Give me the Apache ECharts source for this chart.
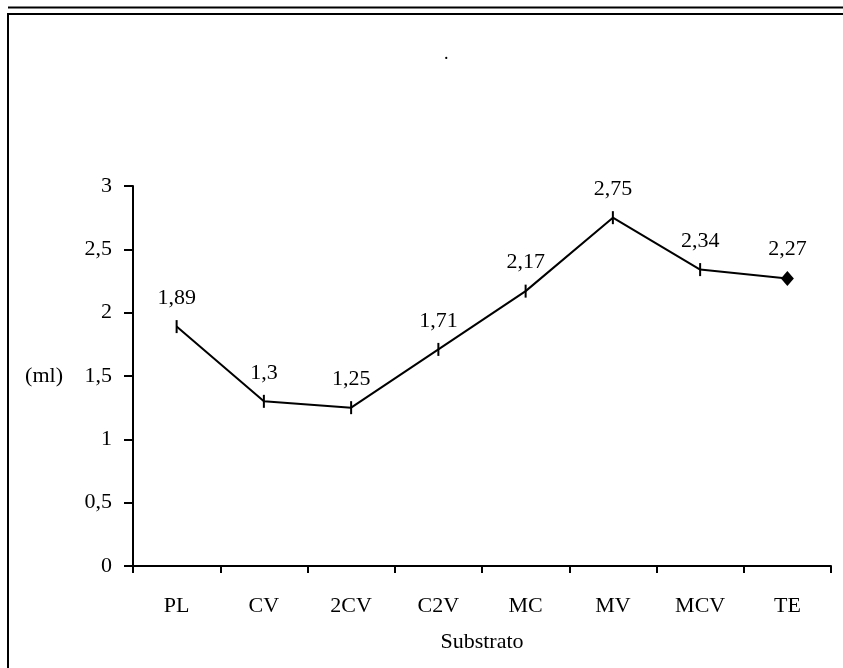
<!DOCTYPE html>
<html>
<head>
<meta charset="utf-8">
<script src="https://cdn.jsdelivr.net/npm/echarts@6/dist/echarts.min.js"></script>
<style>
  html, body { margin: 0; padding: 0; background: #fff; }
  #chart { width: 843px; height: 668px; }
</style>
</head>
<body>
<div id="chart"></div>
<script>
// Volume per substrate
const categories = ['PL', 'CV', '2CV', 'C2V', 'MC', 'MV', 'MCV', 'TE'];
const volumes = [1.89, 1.3, 1.25, 1.71, 2.17, 2.75, 2.34, 2.27];
const yTicks = [0, 0.5, 1, 1.5, 2, 2.5, 3];

const FONT = '"Liberation Serif", "Times New Roman", serif';
const FS = 22;
const fmt = v => String(v).replace('.', ',');

// every point uses a short vertical dash, the last one a diamond
const seriesData = volumes.map((v, i) => {
  const last = i === volumes.length - 1;
  return {
    value: v,
    symbol: last ? 'diamond' : 'rect',
    symbolSize: last ? [13, 15] : [2, 13]
  };
});

const chart = echarts.init(document.getElementById('chart'), null, { renderer: 'canvas' });
chart.setOption({
  backgroundColor: '#fff',
  animation: false,
  title: {
    text: '.',
    left: 439,
    top: 40,
    textStyle: { fontFamily: FONT, fontSize: 18, fontWeight: 'normal', color: '#000' }
  },
  grid: { left: 133, right: 12, top: 186, bottom: 102, containLabel: false },
  xAxis: {
    type: 'category',
    data: categories,
    boundaryGap: true,
    name: 'Substrato',
    nameLocation: 'middle',
    nameGap: 65,
    nameTextStyle: { fontFamily: FONT, fontSize: FS, color: '#000' },
    axisLine: { lineStyle: { color: '#000', width: 2 } },
    axisTick: { show: true, alignWithLabel: false, length: 7, lineStyle: { color: '#000', width: 2 } },
    axisLabel: { fontFamily: FONT, fontSize: FS, color: '#000', margin: 29 },
    splitLine: { show: false }
  },
  yAxis: {
    type: 'value',
    min: yTicks[0],
    max: yTicks[yTicks.length - 1],
    interval: 0.5,
    name: '(ml)',
    nameLocation: 'middle',
    nameRotate: 0,
    nameGap: 70,
    nameTextStyle: { fontFamily: FONT, fontSize: FS, color: '#000', padding: [6, 0, 0, 0] },
    axisLine: { show: true, lineStyle: { color: '#000', width: 2 } },
    axisTick: { show: true, length: 9, lineStyle: { color: '#000', width: 2 } },
    axisLabel: { fontFamily: FONT, fontSize: FS, color: '#000', margin: 21, formatter: v => fmt(v) },
    splitLine: { show: false }
  },
  series: [{
    type: 'line',
    data: seriesData,
    lineStyle: { color: '#000', width: 2 },
    itemStyle: { color: '#000' },
    label: {
      show: true,
      position: 'top',
      distance: 11,
      fontFamily: FONT,
      fontSize: FS,
      color: '#000',
      formatter: p => fmt(p.value)
    }
  }],
  graphic: [
    { type: 'line', shape: { x1: 8, y1: 7.5, x2: 843, y2: 7.5 }, style: { stroke: '#000', lineWidth: 2 } },
    { type: 'line', shape: { x1: 7, y1: 14, x2: 843, y2: 14 }, style: { stroke: '#000', lineWidth: 2 } },
    { type: 'line', shape: { x1: 8, y1: 13, x2: 8, y2: 668 }, style: { stroke: '#000', lineWidth: 2 } }
  ]
});
</script>
</body>
</html>
